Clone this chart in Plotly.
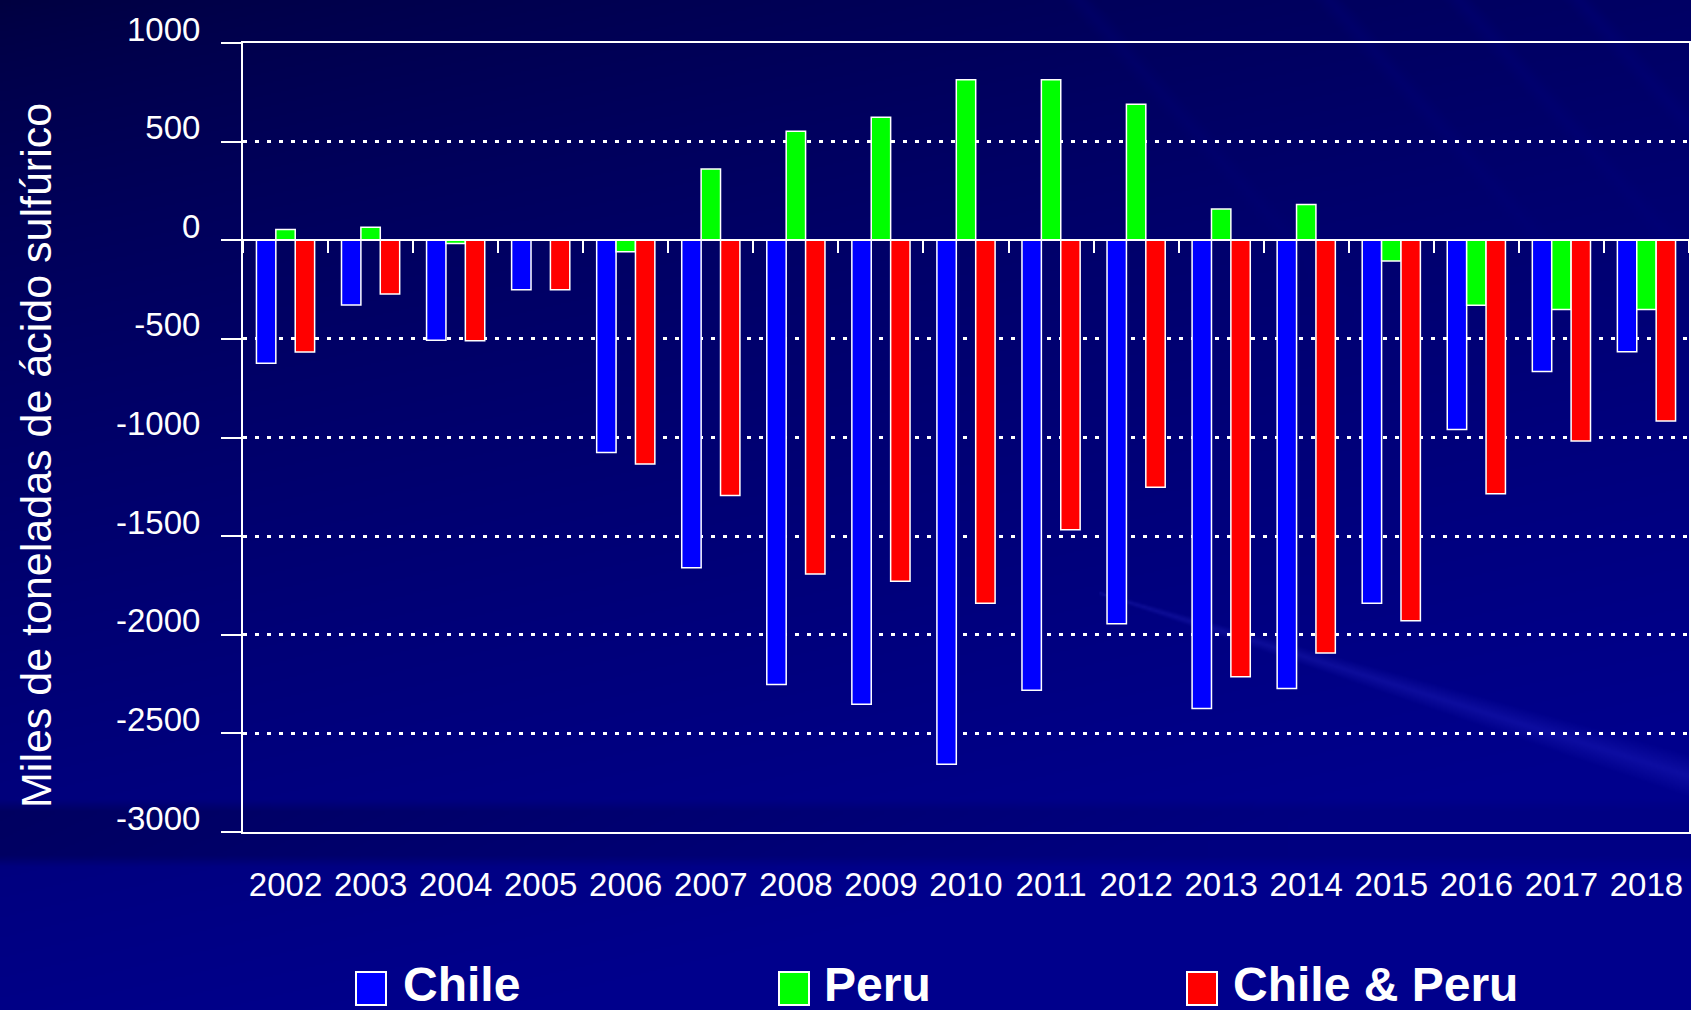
import base64
import struct
import zlib

import numpy as np
import plotly.graph_objects as go

# ---------------- data ----------------
years = ["2002", "2003", "2004", "2005", "2006", "2007", "2008", "2009", "2010",
         "2011", "2012", "2013", "2014", "2015", "2016", "2017", "2018"]
chile = [-623, -328, -507, -251, -1076, -1660, -2252, -2352, -2656,
         -2282, -1944, -2374, -2272, -1840, -959, -665, -565]
peru = [54, 66, -17, 0, -58, 361, 553, 623, 814,
        814, 689, 158, 181, -105, -329, -351, -351]
chile_peru = [-567, -273, -509, -251, -1134, -1294, -1692, -1729, -1840,
              -1468, -1252, -2213, -2092, -1929, -1285, -1018, -916]

series_names = ["Chile", "Peru", "Chile & Peru"]
series_colors = ["#0000FF", "#00FF00", "#FF0000"]

y_ticks = [1000, 500, 0, -500, -1000, -1500, -2000, -2500, -3000]
y_ticklabels = ["1000", "500", "0", "-500", "-1000", "-1500", "-2000", "-2500", "-3000"]
y_range = [-3000, 1000]
y_title = "Miles de toneladas de ácido sulfúrico"

# ---------------- layout geometry ----------------
W, H = 1691, 1010
ML, MR, MT, MB = 243, 2, 43, 178
PW, PH = W - ML - MR, H - MT - MB


def px_x(X):
    return (X - ML) / PW


def px_y(Y):
    return (H - MB - Y) / PH


# ---------------- background image (navy gradient) ----------------
def make_bg(w=846, h=505):
    xs = np.linspace(0, W, w)[None, :]
    ys = np.linspace(0, H, h)[:, None]
    u = xs / W
    v = ys / H
    t = np.clip(v * 0.9 + u * 0.35, 0, 1) ** 0.7
    B = 64 + 76 * t
    R = np.zeros_like(B)
    G = np.zeros_like(B)
    # dark band below plot area
    band = np.clip((ys - 800) / 12, 0, 1) * np.clip((868 - ys) / 12, 0, 1)
    B = B - 28 * band * (1 - 0.75 * u)
    # light streak lower right
    line_y = 640 + (xs - 1250) * 0.31
    width = np.clip(4 + (xs - 1150) * 0.035, 0, 40)
    d = np.abs(ys - line_y)
    streak = np.clip(1 - d / np.maximum(width, 1e-3), 0, 1) * (xs > 1100)
    B = B + 22 * streak
    R = R + 14 * streak
    G = G + 14 * streak
    # subtle steep streaks upper right
    for x0, s in [(1330, 1.13), (1460, 1.13), (1580, 1.13), (1080, 1.13)]:
        dd = np.abs((xs - x0) - ys / s)
        st = np.clip(1 - dd / 18, 0, 1) * np.clip(1 - ys / 330, 0, 1)
        B = B + 10 * st
    img = np.stack([R, G, B], axis=-1)
    img = np.clip(img, 0, 255).astype(np.uint8)
    raw = b"".join(b"\x00" + img[r].tobytes() for r in range(h))

    def chunk(tag, data):
        c = struct.pack(">I", len(data)) + tag + data
        return c + struct.pack(">I", zlib.crc32(tag + data) & 0xFFFFFFFF)

    png = b"\x89PNG\r\n\x1a\n"
    png += chunk(b"IHDR", struct.pack(">IIBBBBB", w, h, 8, 2, 0, 0, 0))
    png += chunk(b"IDAT", zlib.compress(raw, 9))
    png += chunk(b"IEND", b"")
    return "data:image/png;base64," + base64.b64encode(png).decode()


FONT = "Liberation Sans, Arial, sans-serif"

fig = go.Figure()
for name, color, vals in zip(series_names, series_colors, [chile, peru, chile_peru]):
    fig.add_trace(go.Bar(
        x=years, y=vals, name=name,
        marker=dict(color=color, line=dict(color="white", width=1.5)),
        showlegend=False,
    ))

# helper trace for the zero-crossing category axis (ticks at boundaries)
fig.add_trace(go.Scatter(
    x=years, y=chile, xaxis="x2", mode="markers",
    marker=dict(opacity=0), showlegend=False, hoverinfo="skip",
))

zero_pos = (0 - y_range[0]) / (y_range[1] - y_range[0])

fig.update_layout(
    width=W, height=H,
    margin=dict(l=ML, r=MR, t=MT, b=MB),
    paper_bgcolor="#00007a",
    plot_bgcolor="rgba(0,0,0,0)",
    font=dict(family=FONT, color="white", size=33),
    barmode="group",
    bargap=0.316,
    bargroupgap=0,
    xaxis=dict(
        type="category", categoryarray=years, range=[-0.5, len(years) - 0.5],
        showline=True, linecolor="white", linewidth=2, mirror=True,
        ticks="", showgrid=False, zeroline=False,
        tickfont=dict(size=33, color="white", family=FONT),
        ticklabelstandoff=22, automargin=False,
    ),
    xaxis2=dict(
        type="category", categoryarray=years, range=[-0.5, len(years) - 0.5],
        overlaying="x", anchor="free", position=zero_pos, side="bottom",
        tickson="boundaries", ticks="outside", ticklen=12, tickwidth=2,
        tickcolor="white", showticklabels=False, showgrid=False,
        showline=True, linecolor="white", linewidth=2, zeroline=False,
        automargin=False,
    ),
    yaxis=dict(
        range=y_range, tickvals=y_ticks, ticktext=y_ticklabels,
        showline=True, linecolor="white", linewidth=2, mirror=True,
        ticks="outside", ticklen=20, tickwidth=2, tickcolor="white",
        showgrid=True, gridcolor="white", gridwidth=3, griddash="4px,8px",
        zeroline=True, zerolinecolor="white", zerolinewidth=2,
        tickfont=dict(size=33, color="white", family=FONT),
        ticklabelposition="outside", ticklabelstandoff=14, ticklabelshift=-14,
        title=dict(text=y_title + "&nbsp;&nbsp;&nbsp;",
                   font=dict(size=43, color="white", family=FONT),
                   standoff=51),
        automargin=False,
    ),
    images=[dict(
        source=make_bg(), xref="paper", yref="paper",
        x=px_x(0), y=px_y(0), sizex=W / PW, sizey=H / PH,
        xanchor="left", yanchor="top", sizing="stretch", layer="below",
    )],
)

# custom legend (large swatches as in the reference)
legend_swatch_x = [356, 779, 1187]
legend_text_x = [401, 822, 1231]
sw_w, sw_top, sw_bot, text_y = 30, 972, 1005, 984
for name, color, sx, tx in zip(series_names, series_colors, legend_swatch_x, legend_text_x):
    fig.add_shape(type="rect", xref="paper", yref="paper",
                  x0=px_x(sx), x1=px_x(sx + sw_w), y0=px_y(sw_bot), y1=px_y(sw_top),
                  fillcolor=color, line=dict(color="white", width=2))
    fig.add_annotation(text="<b>" + name + "</b>", xref="paper", yref="paper",
                       x=px_x(tx), y=px_y(text_y), xanchor="left", yanchor="middle",
                       showarrow=False, font=dict(size=48, color="white", family=FONT))

fig.write_html(
    "out.html",
    config={"displayModeBar": False},
    post_script="document.body.style.margin='0px';document.body.style.overflow='hidden';",
)
